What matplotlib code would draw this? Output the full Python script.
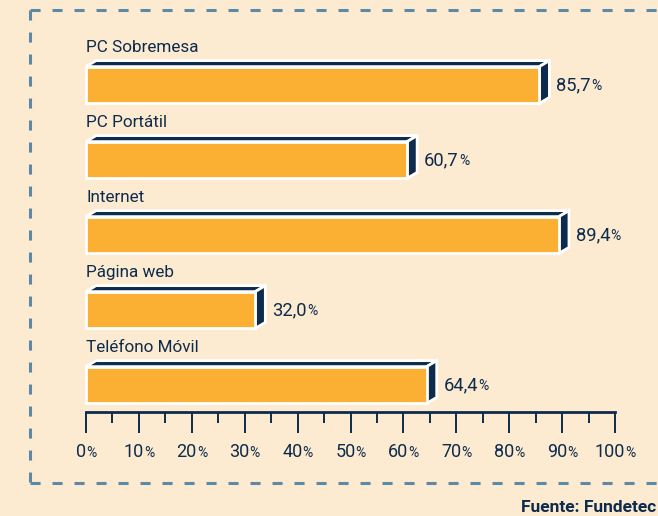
import matplotlib
matplotlib.use("Agg")
import matplotlib.pyplot as plt
from matplotlib.patches import Rectangle, Polygon
from matplotlib.lines import Line2D
from matplotlib.offsetbox import TextArea, HPacker, AnnotationBbox
from matplotlib.ticker import MultipleLocator

categories = ["PC Sobremesa", "PC Portátil", "Internet", "Página web", "Teléfono Móvil"]
values = [85.7, 60.7, 89.4, 32.0, 64.4]
value_labels = ["85,7", "60,7", "89,4", "32,0", "64,4"]
tick_values = [0, 10, 20, 30, 40, 50, 60, 70, 80, 90, 100]
source_text = "Fuente: Fundetec"

BG = "#fdebd1"
ORANGE = "#fbb034"
NAVY = "#0d2b4c"
DASH = "#5e89a5"

plt.rcParams['font.family'] = ['Roboto', 'DejaVu Sans']

W, H = 658, 516
fig = plt.figure(figsize=(W / 100, H / 100), dpi=100)
fig.patch.set_facecolor(BG)

ax = fig.add_axes([86 / W, (H - 412) / H, (615 - 86) / W, (412 - 40) / H])
ax.set_facecolor("none")
ax.set_xlim(0, 100)
ax.set_ylim(4.36, -0.6)

for s in ["top", "left", "right"]:
    ax.spines[s].set_visible(False)
ax.spines["bottom"].set_color(NAVY)
ax.spines["bottom"].set_linewidth(2.0)
ax.set_yticks([])
ax.xaxis.set_major_locator(MultipleLocator(10))
ax.xaxis.set_minor_locator(MultipleLocator(5))
ax.tick_params(axis="x", which="major", direction="out", length=15, width=1.4,
               color=NAVY, labelbottom=False)
ax.tick_params(axis="x", which="minor", direction="out", length=8, width=1.4,
               color=NAVY)

h = 0.49
dx = 1.9
dy = 0.08


def pct_box(num, size_num, size_pct):
    return HPacker(children=[TextArea(num, textprops=dict(fontsize=size_num, color=NAVY)),
                             TextArea("%", textprops=dict(fontsize=size_pct, color=NAVY))],
                   align="baseline", pad=0, sep=0)


for i, (cat, v, lab) in enumerate(zip(categories, values, value_labels)):
    top = i - h / 2
    bot = i + h / 2
    front = Rectangle((0, top), v, h, facecolor=ORANGE, edgecolor="white",
                      linewidth=2, zorder=3, clip_on=False)
    topface = Polygon([(0, top), (dx, top - dy), (v + dx, top - dy), (v, top)],
                      closed=True, facecolor=NAVY, edgecolor="white",
                      linewidth=2, zorder=2, clip_on=False, joinstyle="miter")
    side = Polygon([(v, top), (v + dx, top - dy), (v + dx, bot - dy), (v, bot)],
                   closed=True, facecolor=NAVY, edgecolor="white",
                   linewidth=2, zorder=2, clip_on=False, joinstyle="miter")
    ax.add_patch(topface)
    ax.add_patch(side)
    ax.add_patch(front)

    ax.text(0, i - 0.5, cat, ha="left", va="center", fontsize=12.3, color=NAVY)

    ab = AnnotationBbox(pct_box(lab, 13.2, 10), (v + dx, i), xycoords="data",
                        xybox=(7, 0), boxcoords="offset pixels",
                        box_alignment=(0, 0.5), frameon=False, pad=0,
                        annotation_clip=False)
    ax.add_artist(ab)

for t in tick_values:
    ab = AnnotationBbox(pct_box(str(t), 13, 10), (t, 0), xycoords=("data", "axes fraction"),
                        xybox=(0, -40), boxcoords="offset pixels",
                        box_alignment=(0.5, 0.5), frameon=False, pad=0,
                        annotation_clip=False)
    ax.add_artist(ab)

# dashed frame
ls = (0, (3.3, 3.9))
lx = 30 / W
ty = 1 - 10 / H
by = 1 - 483 / H
for xs, ys in [([lx, 1.05], [ty, ty]), ([lx, lx], [ty, by]), ([lx, 1.05], [by, by])]:
    fig.add_artist(Line2D(xs, ys, transform=fig.transFigure, color=DASH,
                          linewidth=2.2, linestyle=ls))

fig.text(521 / W, 1 - 507 / H, source_text, fontsize=12.5, fontweight="bold",
         color=NAVY, ha="left", va="center")

fig.savefig("out.png", dpi=100, facecolor=BG)
